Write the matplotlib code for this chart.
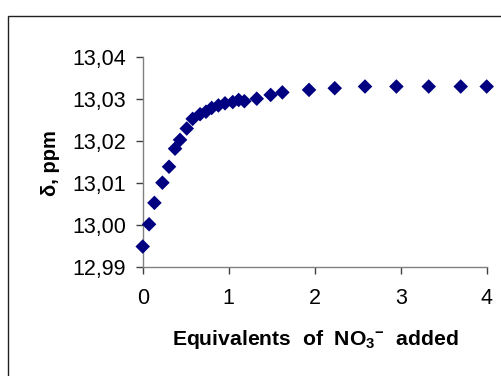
import matplotlib
matplotlib.use("Agg")
import matplotlib.pyplot as plt
from matplotlib.patches import Rectangle
from matplotlib.ticker import FuncFormatter

plt.rcParams.update({
    "font.family": ["Liberation Sans", "DejaVu Sans"],
    "mathtext.fontset": "custom",
    "mathtext.rm": "Liberation Sans:bold",
    "mathtext.bf": "Liberation Sans:bold",
    "mathtext.default": "bf",
})

# equivalents of nitrate added vs chemical shift
equiv = [0.0, 0.074, 0.136, 0.229, 0.306, 0.376, 0.434, 0.512, 0.581, 0.667,
         0.736, 0.802, 0.880, 0.957, 1.047, 1.116, 1.182, 1.326, 1.488, 1.624,
         1.934, 2.233, 2.585, 2.950, 3.326, 3.698, 4.0]
shift = [12.9948, 13.0001, 13.0052, 13.0100, 13.0138, 13.0181, 13.0202, 13.0229,
         13.0252, 13.0263, 13.0269, 13.0278, 13.0284, 13.0289, 13.0292, 13.0297,
         13.0294, 13.0300, 13.0309, 13.0315, 13.0321, 13.0325, 13.0329, 13.0329,
         13.0329, 13.0329, 13.0329]
xticks = [0, 1, 2, 3, 4]
yticks = [12.99, 13.00, 13.01, 13.02, 13.03, 13.04]

fig = plt.figure(figsize=(5.02, 3.76), dpi=100)
ax = fig.add_axes([0.2843, 0.2907, 0.6852, 0.5585])

ax.scatter(equiv, shift, marker="D", s=55, color="#000080", edgecolors="none",
           clip_on=False, zorder=3)

ax.set_xlim(0, 4)
ax.set_ylim(12.99, 13.04)
ax.set_xticks(xticks)
ax.set_yticks(yticks)
ax.yaxis.set_major_formatter(FuncFormatter(lambda v, p: f"{v:.2f}".replace(".", ",")))
ax.xaxis.set_major_formatter(FuncFormatter(lambda v, p: f"{v:g}"))

for side in ("top", "right"):
    ax.spines[side].set_visible(False)
for side in ("left", "bottom"):
    ax.spines[side].set_color("#808080")
    ax.spines[side].set_linewidth(1.0)

ax.tick_params(axis="both", direction="out", length=5, width=1.0,
               color="#404040", labelsize=15.5, labelcolor="black")
ax.tick_params(axis="x", pad=10)
ax.tick_params(axis="y", pad=7)

ax.set_xlabel("Equivalents  of  NO$_3$$^{-}$  added", fontsize=15.2, fontweight="bold")
ax.xaxis.set_label_coords(0.501, -0.349)
ax.xaxis.label.set_va("center")
ax.set_ylabel("δ, ppm", fontsize=14.5, fontweight="bold")
ax.yaxis.set_label_coords(-0.2695, 0.494)
ax.yaxis.label.set_va("center")

# outer chart-area border (extends past the image edge)
fig.add_artist(Rectangle((8 / 502, -0.1), 1.2, 1 - 16 / 376 + 0.1,
                         transform=fig.transFigure, fill=False,
                         edgecolor="#202020", linewidth=1.0))

fig.savefig("out.png", dpi=100)
